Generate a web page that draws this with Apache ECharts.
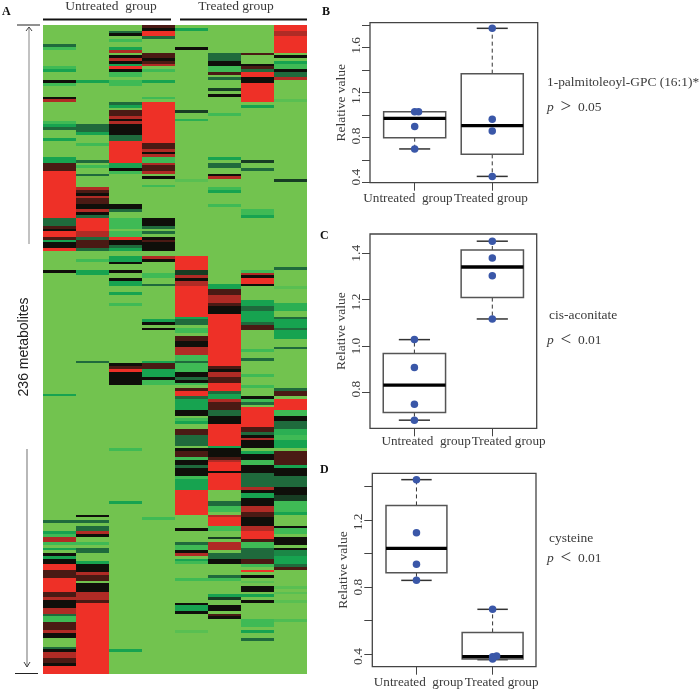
<!DOCTYPE html>
<html><head><meta charset="utf-8">
<style>html,body{margin:0;padding:0;background:#fff}#c{width:700px;height:694px}</style>
<script src="https://cdn.jsdelivr.net/npm/echarts@6/dist/echarts.min.js"></script>
</head><body><div id="c"></div>
<script>
// Heat map: runs of [firstRow, lastRow, level] per sample; all other rows are level 0
const rowCount = 236;
const sampleNames = ['U1','U2','U3','U4','T1','T2','T3','T4'];
const levelColors = ['#72c34f','#3fba55','#17a350','#1f6a3c','#0f0f0a','#4a1a14','#b02b25','#ee3027'];
const runsU1 = [[7,7,3],[8,8,1],[15,15,1],[16,16,2],[20,20,4],[21,21,1],[26,26,4],[27,27,6],[35,35,1],[36,36,2],[37,37,3],[41,41,2],[48,49,2],[50,52,5],[53,69,7],[70,72,3],[73,73,5],[74,74,4],[75,76,7],[77,77,5],[78,78,2],[79,80,4],[81,81,7],[89,89,4],[134,134,2],[180,180,3],[184,184,2],[185,185,1],[186,187,6],[188,188,1],[190,190,2],[192,192,4],[193,193,2],[194,195,4],[196,197,7],[198,200,5],[201,205,7],[206,207,5],[208,208,6],[209,211,4],[212,213,6],[214,214,3],[215,216,1],[217,219,5],[220,220,6],[221,222,4],[226,226,3],[227,227,4],[228,229,6],[230,231,5],[232,232,4],[233,235,7]];
const runsU2 = [[20,20,2],[36,38,3],[39,39,2],[43,43,1],[49,49,3],[51,51,1],[54,54,3],[59,59,6],[60,60,5],[61,61,4],[62,62,6],[63,64,5],[65,66,4],[67,67,6],[68,68,4],[69,69,3],[70,74,7],[75,76,6],[77,77,3],[78,80,5],[81,81,3],[85,85,1],[89,90,2],[122,122,3],[178,178,4],[180,180,3],[182,183,3],[184,184,6],[185,185,4],[188,188,1],[190,191,3],[195,195,2],[196,198,4],[199,199,6],[200,201,5],[203,205,4],[206,208,6],[209,209,5],[210,235,7]];
const runsU3 = [[2,2,3],[3,3,4],[5,5,1],[8,8,2],[9,9,6],[11,11,4],[12,12,6],[13,13,4],[14,14,2],[15,15,7],[16,16,4],[17,18,1],[20,21,1],[28,28,3],[29,29,2],[31,32,5],[33,33,6],[34,34,4],[35,35,6],[36,39,4],[40,41,3],[42,49,7],[50,51,2],[52,52,4],[53,53,1],[65,66,4],[67,67,3],[70,73,1],[75,76,1],[77,77,7],[78,79,4],[80,80,3],[81,81,2],[84,85,2],[86,86,4],[89,89,4],[92,92,4],[93,94,2],[97,97,2],[101,101,1],[123,123,4],[124,124,5],[125,125,7],[126,127,4],[128,130,4],[154,154,1],[173,173,2],[227,227,2]];
const runsU4 = [[0,0,5],[1,1,4],[2,3,7],[4,4,3],[10,11,5],[12,12,4],[13,13,5],[14,14,6],[16,16,1],[20,20,2],[26,26,1],[28,42,7],[43,44,5],[45,45,6],[46,46,4],[47,47,6],[48,49,1],[50,50,6],[51,52,5],[53,53,6],[55,55,4],[58,58,1],[70,72,4],[73,73,3],[75,75,3],[77,77,4],[78,78,5],[79,81,4],[84,84,6],[85,85,4],[90,91,1],[94,94,3],[107,107,2],[108,108,4],[110,110,4],[122,122,2],[123,124,5],[125,127,2],[128,128,4],[129,130,1],[179,179,1]];
const runsT1 = [[1,1,2],[8,8,4],[31,31,3.5],[34,34,1.5],[56,56,0.5],[84,88,7],[89,90,3.5],[91,91,6],[92,92,4],[93,94,6],[95,105,7],[106,106,2],[107,108,3],[110,111,1],[113,114,5],[115,116,4],[117,119,6],[120,121,1],[122,122,3],[123,125,1],[126,127,4],[128,128,3],[129,129,4],[130,130,1],[132,132,5],[133,134,7],[135,135,3],[136,139,2],[140,141,4],[143,143,1],[144,144,2],[147,148,5],[149,150,3],[151,152,3],[154,154,4],[155,156,5],[157,157,1],[158,159,4],[160,160,3],[161,163,4],[164,164,1],[165,168,2],[169,177,7],[183,183,4],[188,188,3],[189,190,1],[191,191,4],[192,192,6],[194,194,2],[195,195,1],[201,201,1],[210,210,4],[211,212,2],[213,213,4],[220,220,0.5]];
const runsT2 = [[10,12,3],[13,14,4],[15,16,1],[17,17,5],[19,19,3],[23,23,3.5],[25,25,4],[32,32,1],[48,48,2],[50,51,3],[54,54,4],[55,55,6],[59,59,1],[60,60,2],[65,65,1],[94,95,2],[96,97,5],[98,100,6],[101,101,5],[102,104,4],[105,123,7],[124,124,5],[125,125,4],[126,127,6],[128,129,5],[130,132,7],[133,133,3],[134,135,2],[136,136,6],[137,139,5],[140,141,3],[142,144,4],[145,152,7],[153,153,2],[154,156,4],[157,157,5],[158,158,6],[159,161,7],[162,162,4],[163,168,7],[173,174,3],[175,176,1],[178,178,6],[179,181,7],[182,183,1],[186,186,3.5],[188,188,6],[189,190,6],[192,193,3],[194,195,4],[200,200,3],[201,201,1],[207,207,2],[208,208,3.5],[211,212,4],[214,214,5],[215,215,4]];
const runsT3 = [[10,10,5],[14,14,4],[15,15,5],[16,16,3],[17,18,7],[19,20,4],[21,27,7],[29,29,2],[49,49,3.5],[52,52,3],[67,68,1],[69,69,2],[89,89,1],[90,90,6],[91,91,4],[92,93,7],[94,94,4],[100,101,2],[102,103,3],[104,107,2],[108,108,3],[109,110,5],[118,118,1],[121,121,3],[127,127,1],[131,131,1],[135,135,4],[136,136,1],[137,137,3],[139,145,7],[146,147,5],[148,148,3],[149,149,4],[150,150,6],[151,153,4],[155,155,2],[156,157,4],[158,159,1],[160,162,4],[163,167,3],[168,168,6],[169,169,4],[170,171,2],[172,174,4],[175,176,6],[177,178,5],[179,181,4],[182,183,6],[184,186,7],[187,187,5],[188,189,1],[190,193,3],[194,195,5],[196,196,1],[198,198,7],[200,200,4],[202,202,0.5],[204,204,4],[205,205,4],[207,207,2],[209,209,4],[216,218,1],[220,220,2],[223,223,3]];
const runsT4 = [[0,1,7],[2,3,6],[4,9,7],[11,11,4],[13,13,2],[14,15,1],[16,16,4],[17,18,3],[19,19,6],[27,27,0.5],[56,56,3.5],[88,88,3],[95,95,0.5],[101,103,1.5],[106,106,3],[107,109,2],[110,110,3],[111,113,2],[117,117,3],[132,132,3],[133,134,5],[136,139,7],[140,141,1],[142,143,4],[144,146,3],[147,148,1.5],[149,150,1],[151,153,2],[155,159,5],[160,160,2],[161,163,4],[164,167,3],[168,170,4],[171,172,3.5],[173,176,1],[177,177,2],[182,182,4],[183,184,1],[186,188,4],[190,190,4],[191,192,2.5],[193,195,2],[196,196,3],[197,197,5],[204,204,0.5],[206,206,0.5],[209,209,0.5],[216,216,0.7]];
const allRuns = [runsU1,runsU2,runsU3,runsU4,runsT1,runsT2,runsT3,runsT4];

// Box plots: [group, min, q1, median, q3, max]
const boxesB = [[1,0.70,0.80,0.972,1.03,1.03],[2,0.456,0.652,0.907,1.369,1.772]];
const pointsB = [[1,1.03],[1.05,1.03],[1,0.90],[1,0.70],[2,1.772],[2,0.963],[2,0.859],[2,0.456]];
const boxesC = [[1,0.681,0.714,0.832,0.968,1.028],[2,1.117,1.209,1.341,1.414,1.452]];
const pointsC = [[1,1.028],[1,0.908],[1,0.75],[1,0.681],[2,1.452],[2,1.38],[2,1.303],[2,1.117]];
const boxesD = [[1,0.84,0.886,1.031,1.288,1.442],[2,0.366,0.37,0.384,0.529,0.667]];
const pointsD = [[1,1.442],[1,1.125],[1,0.936],[1,0.84],[2,0.667],[2,0.384],[2.053,0.388],[2,0.37]];
const ticksB = [0.4,0.6,0.8,1,1.2,1.4,1.6,1.8], labelsB = ['0.4','0.8','1.2','1.6'];
const ticksC = [0.8,1,1.2,1.4], labelsC = ['0.8','1.0','1.2','1.4'];
const ticksD = [0.4,0.6,0.8,1,1.2,1.4], labelsD = ['0.4','0.8','1.2'];
const groupLabels = ['Untreated  group','Treated group'];

const serif = '"Liberation Serif", serif';
const ink = '#3a3a3a';
const heatData = [];
allRuns.forEach((runs, c) => {
  const col = new Array(rowCount).fill(0);
  runs.forEach(r => { for (let i = r[0]; i <= r[1]; i++) col[i] = r[2]; });
  col.forEach((v, i) => heatData.push([c, i, v]));
});
const rowNames = Array.from({length: rowCount}, (_, i) => String(i));

const panels = [
  {box: boxesB, pts: pointsB, ticks: ticksB, labels: labelsB, labelAt: [0.45,0.815,1.175,1.62], groupAt: [0.914,1.983], margin: 9, left: 370, right: 537.7, top: 22.7, bottom: 182.7, ymin: 0.4, ymax: 1.822, xmin: 0.424, xmax: 2.586},
  {box: boxesC, pts: pointsC, ticks: ticksC, labels: labelsC, labelAt: [0.815,1,1.19,1.4], groupAt: [1.15,2.21], margin: 7, left: 370, right: 536.7, top: 234, bottom: 428.3, ymin: 0.646, ymax: 1.483, xmin: 0.43, xmax: 2.57},
  {box: boxesD, pts: pointsD, ticks: ticksD, labels: labelsD, labelAt: [0.385,0.8,1.19], groupAt: [1.026,2.118], margin: 9, left: 372.3, right: 536, top: 473.3, bottom: 666.7, ymin: 0.324, ymax: 1.48, xmin: 0.42, xmax: 2.57}
];

const grids = [{left: 43, top: 25, width: 264, height: 649, containLabel: false}];
const xAxes = [{type: 'category', gridIndex: 0, data: sampleNames, show: false}];
const yAxes = [{type: 'category', gridIndex: 0, data: rowNames, inverse: true, show: false}];

function heatRender(params, api) {
  const c = api.coord([api.value(0), api.value(1)]);
  const s = api.size([1, 1]);
  const x0 = Math.round(c[0] - s[0] / 2), x1 = Math.round(c[0] + s[0] / 2);
  const y0 = Math.round(c[1] - s[1] / 2), y1 = Math.round(c[1] + s[1] / 2);
  // one extra pixel each way: later cells paint over it, so no seams can open between cells
  return {type: 'rect', shape: {x: x0, y: y0, width: x1 - x0 + 1, height: y1 - y0 + 1}, style: {fill: api.visual('color'), stroke: null, lineWidth: 0}};
}
const series = [{type: 'custom', name: 'heatmap', xAxisIndex: 0, yAxisIndex: 0, data: heatData, renderItem: heatRender, encode: {x: 0, y: 1}, clip: true, animation: false, silent: true, progressive: 0}];

function boxRender(params, api) {
  const g = api.value(0), lo = api.value(1), q1 = api.value(2), med = api.value(3), q3 = api.value(4), hi = api.value(5);
  const P = (x, y) => api.coord([x, y]);
  const line = (a, b, style) => ({type: 'line', shape: {x1: a[0], y1: a[1], x2: b[0], y2: b[1]}, style});
  const tl = P(g - 0.4, q3), br = P(g + 0.4, q1);
  const dash = {stroke: '#333', lineWidth: 1, lineDash: [4, 3]};
  const cap = {stroke: '#333', lineWidth: 1.5};
  return {type: 'group', children: [
    line(P(g, q3), P(g, hi), dash),
    line(P(g, q1), P(g, lo), dash),
    line(P(g - 0.2, hi), P(g + 0.2, hi), cap),
    line(P(g - 0.2, lo), P(g + 0.2, lo), cap),
    {type: 'rect', shape: {x: tl[0], y: tl[1], width: br[0] - tl[0], height: br[1] - tl[1]}, style: {fill: '#fff', stroke: '#555', lineWidth: 1.5}},
    line(P(g - 0.4, med), P(g + 0.4, med), {stroke: '#000', lineWidth: 3.4})
  ]};
}

panels.forEach((p, i) => {
  const idx = i + 1;
  grids.push({left: p.left, top: p.top, width: p.right - p.left, height: p.bottom - p.top, show: true, borderColor: '#444', borderWidth: 1.3, backgroundColor: 'transparent'});
  xAxes.push({type: 'value', gridIndex: idx, min: p.xmin, max: p.xmax, splitLine: {show: false}, axisLine: {show: false},
    axisTick: {show: true, length: 8, lineStyle: {color: '#444'}, customValues: [1, 2]},
    axisLabel: {show: true, margin: p.margin, color: ink, fontFamily: serif, fontSize: 13.2, hideOverlap: false, customValues: p.groupAt,
      formatter: v => groupLabels[v < 1.5 ? 0 : 1]}});
  yAxes.push({type: 'value', gridIndex: idx, min: p.ymin, max: p.ymax, splitLine: {show: false}, axisLine: {show: false},
    name: 'Relative value', nameLocation: 'middle', nameGap: 20, nameTextStyle: {fontFamily: serif, fontSize: 13.5, color: ink},
    axisTick: {show: true, length: 8, lineStyle: {color: '#444'}, customValues: p.ticks},
    axisLabel: {show: true, rotate: 90, margin: 7, color: ink, fontFamily: serif, fontSize: 13.5, hideOverlap: false, customValues: p.labelAt,
      formatter: v => p.labels[p.labelAt.indexOf(v)]}});
  series.push({type: 'custom', xAxisIndex: idx, yAxisIndex: idx, data: p.box, renderItem: boxRender, encode: {x: 0, y: [1, 2, 3, 4, 5]}, clip: false, z: 2, animation: false, silent: true});
  series.push({type: 'scatter', xAxisIndex: idx, yAxisIndex: idx, data: p.pts, symbolSize: 7.5, itemStyle: {color: '#3a57a8', opacity: 1}, z: 3, animation: false, silent: true});
});

const txt = (x, y, text, extra) => ({type: 'text', x, y, style: Object.assign({text, fontFamily: serif, fontSize: 13, fill: ink, textAlign: 'left', textVerticalAlign: 'middle'}, extra || {})});
const ln = (x1, y1, x2, y2, stroke, lineWidth) => ({type: 'line', shape: {x1, y1, x2, y2}, style: {stroke, lineWidth}});
const pRich = {fontSize: 13.5, rich: {i: {fontFamily: serif, fontStyle: 'italic', fontSize: 13.5, fill: ink}, g: {fontFamily: serif, fontSize: 19, fill: ink}}};

const graphic = [
  txt(2, 12, 'A', {fontWeight: 'bold', fontSize: 12, fill: '#111'}),
  txt(322, 12, 'B', {fontWeight: 'bold', fontSize: 12, fill: '#111'}),
  txt(320, 236, 'C', {fontWeight: 'bold', fontSize: 12, fill: '#111'}),
  txt(320, 470, 'D', {fontWeight: 'bold', fontSize: 12, fill: '#111'}),
  txt(111, 6, 'Untreated  group', {textAlign: 'center', fontSize: 13.5}),
  txt(236, 6, 'Treated group', {textAlign: 'center', fontSize: 13.5}),
  ln(43, 19.5, 171, 19.5, '#111', 2),
  ln(180, 19.5, 307, 19.5, '#111', 2),
  ln(17, 25, 40, 25, '#222', 1),
  ln(15, 673.5, 38, 673.5, '#222', 1),
  ln(29, 27, 29, 244, '#999', 1.2),
  ln(26, 31, 29, 27, '#444', 1), ln(32, 31, 29, 27, '#444', 1),
  ln(27, 449, 27, 667, '#888', 1.2),
  ln(24, 662, 27, 667, '#444', 1), ln(30, 662, 27, 667, '#444', 1),
  {type: 'text', x: 24.5, y: 347, rotation: Math.PI / 2,
    style: {text: '236 metabolites', fontFamily: '"Liberation Sans", sans-serif', fontSize: 14, fill: '#222', textAlign: 'center', textVerticalAlign: 'middle'}},
  txt(547, 82, '1-palmitoleoyl-GPC (16:1)*', {fontSize: 13.4}),
  txt(547, 107, '{i|p}  {g|>}  0.05', pRich),
  txt(549, 315, 'cis-aconitate', {fontSize: 13.5}),
  txt(547, 340, '{i|p}  {g|<}  0.01', pRich),
  txt(549, 538, 'cysteine', {fontSize: 13.5}),
  txt(547, 558, '{i|p}  {g|<}  0.01', pRich)
];

const chart = echarts.init(document.getElementById('c'), null, {renderer: 'canvas'});
chart.setOption({
  animation: false,
  backgroundColor: '#fff',
  tooltip: {show: false},
  grid: grids, xAxis: xAxes, yAxis: yAxes,
  visualMap: {show: false, type: 'continuous', seriesIndex: 0, dimension: 2, min: 0, max: 7, inRange: {color: levelColors}},
  series,
  graphic: {elements: graphic}
});
</script></body></html>
